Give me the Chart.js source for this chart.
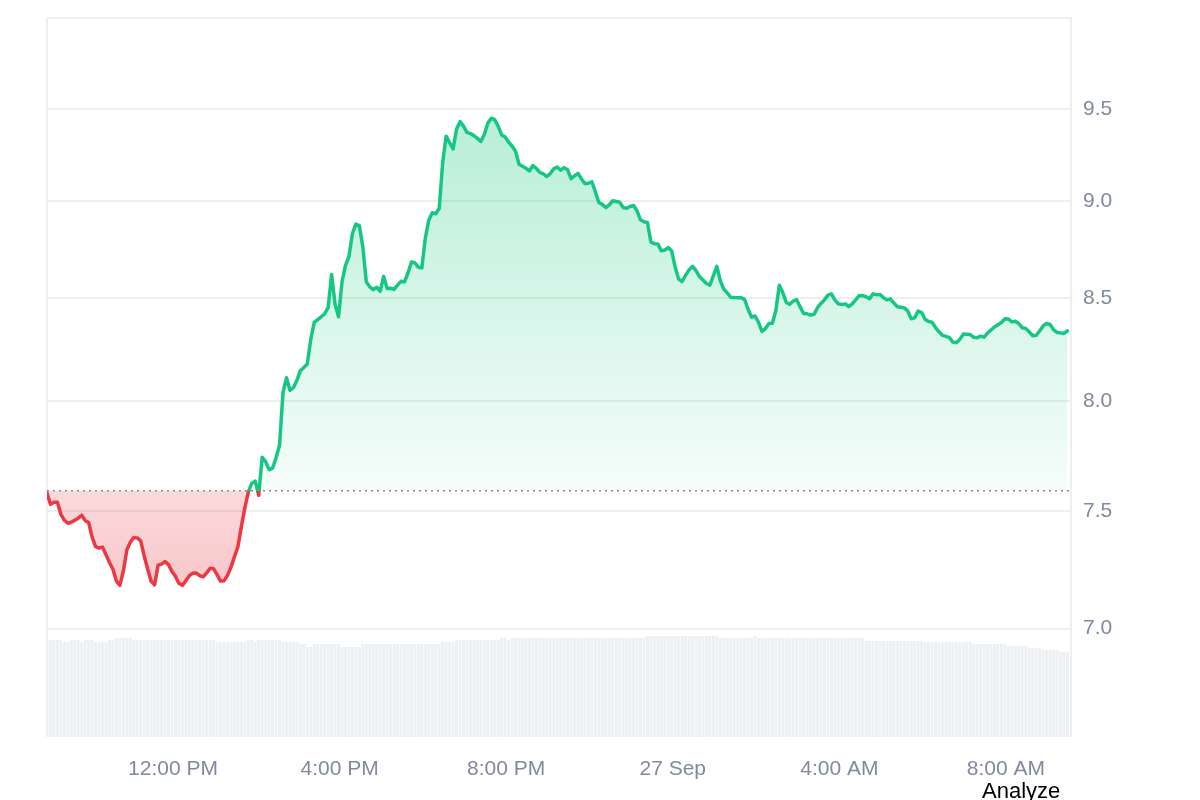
<!DOCTYPE html>
<html>
<head>
<meta charset="utf-8">
<script src="https://cdn.jsdelivr.net/npm/chart.js@4.4.1/dist/chart.umd.min.js"></script>
<style>
  html, body { margin: 0; padding: 0; background: #fff; overflow: hidden; }
  #wrap { position: relative; width: 1200px; height: 800px; }
  #analyze { position: absolute; left: 982px; top: 778px; font: 22px "Liberation Sans", Arial, sans-serif; color: #000; }
</style>
</head>
<body>
<div id="wrap">
  <canvas id="chart" width="1200" height="800"></canvas>
  <div id="analyze">Analyze</div>
</div>
<script>
// minutes from 26 Sep 00:00, one sample every 5 minutes
const startMinute = 538.5;
const endMinute = 2013.7;
const stepMinutes = 5;
const baselinePrice = 7.59;

const prices = [
  7.580, 7.530, 7.539, 7.539, 7.486, 7.460, 7.447, 7.451, 7.460, 7.469,
  7.482, 7.458, 7.450, 7.386, 7.345, 7.339, 7.343, 7.310, 7.277, 7.248,
  7.198, 7.180, 7.240, 7.331, 7.364, 7.385, 7.383, 7.370, 7.306, 7.249,
  7.197, 7.182, 7.266, 7.270, 7.281, 7.268, 7.239, 7.218, 7.189, 7.180,
  7.199, 7.221, 7.231, 7.232, 7.221, 7.216, 7.233, 7.252, 7.250, 7.225,
  7.198, 7.199, 7.222, 7.256, 7.301, 7.344, 7.432, 7.514, 7.584, 7.624,
  7.633, 7.570, 7.741, 7.721, 7.685, 7.692, 7.739, 7.796, 8.042, 8.111,
  8.052, 8.064, 8.099, 8.145, 8.160, 8.177, 8.297, 8.379, 8.393, 8.407,
  8.422, 8.452, 8.619, 8.469, 8.407, 8.581, 8.665, 8.710, 8.828, 8.877,
  8.870, 8.758, 8.582, 8.556, 8.542, 8.554, 8.534, 8.609, 8.548, 8.549,
  8.543, 8.565, 8.584, 8.581, 8.626, 8.682, 8.678, 8.655, 8.652, 8.804,
  8.898, 8.937, 8.931, 8.959, 9.203, 9.348, 9.312, 9.278, 9.387, 9.428,
  9.403, 9.369, 9.362, 9.351, 9.336, 9.319, 9.357, 9.419, 9.447, 9.439,
  9.402, 9.355, 9.344, 9.316, 9.294, 9.266, 9.195, 9.184, 9.173, 9.159,
  9.188, 9.172, 9.151, 9.143, 9.129, 9.145, 9.170, 9.180, 9.163, 9.177,
  9.165, 9.118, 9.132, 9.146, 9.116, 9.091, 9.093, 9.101, 9.047, 8.991,
  8.981, 8.964, 8.979, 9.000, 8.996, 8.992, 8.964, 8.960, 8.970, 8.975,
  8.947, 8.900, 8.890, 8.886, 8.784, 8.776, 8.774, 8.739, 8.743, 8.756,
  8.738, 8.655, 8.595, 8.583, 8.615, 8.642, 8.660, 8.638, 8.608, 8.591,
  8.573, 8.565, 8.613, 8.660, 8.587, 8.545, 8.526, 8.504, 8.503, 8.502,
  8.501, 8.493, 8.444, 8.405, 8.411, 8.380, 8.335, 8.349, 8.374, 8.375,
  8.438, 8.564, 8.528, 8.478, 8.469, 8.485, 8.492, 8.456, 8.423, 8.422,
  8.415, 8.419, 8.452, 8.473, 8.491, 8.515, 8.521, 8.491, 8.471, 8.468,
  8.471, 8.458, 8.471, 8.491, 8.512, 8.513, 8.506, 8.496, 8.521, 8.517,
  8.518, 8.502, 8.491, 8.496, 8.475, 8.457, 8.454, 8.451, 8.436, 8.397,
  8.402, 8.435, 8.428, 8.395, 8.384, 8.380, 8.354, 8.333, 8.316, 8.311,
  8.305, 8.283, 8.280, 8.296, 8.322, 8.321, 8.320, 8.306, 8.304, 8.312,
  8.307, 8.327, 8.342, 8.357, 8.368, 8.379, 8.397, 8.396, 8.382, 8.385,
  8.373, 8.353, 8.349, 8.333, 8.314, 8.316, 8.337, 8.362, 8.374, 8.369,
  8.344, 8.330, 8.328, 8.325, 8.338
];

const volumes = [
  24.75, 24.25, 24.25, 24.25, 24.25, 23.75, 23.75, 24.25, 24.25, 24.25, 23.75, 24.25, 24.25,
  24.25, 23.75, 23.75, 23.75, 23.75, 24.25, 24.25, 24.75, 24.75, 24.75, 24.75, 24.75,
  24.25, 24.25, 24.25, 24.25, 24.25, 24.25, 24.25, 24.25, 24.25, 24.25,
  24.25, 24.25, 24.25, 24.25, 24.25, 24.25, 24.25, 24.25, 24.25, 24.25,
  24.25, 24.25, 24.25, 24.25,
  23.75, 23.75, 23.75, 23.75, 23.75, 23.75, 23.75, 23.75, 23.75,
  24.25, 24.25, 23.75, 24.25, 24.25, 24.25, 24.25, 24.25, 24.25, 24.25,
  23.75, 23.75, 23.75, 23.75, 23.75, 23.25, 23.25, 22.5, 22.5,
  23.25, 23.25, 23.25, 23.25, 23.25, 23.25, 23.25, 23.25,
  22.5, 22.5, 22.5, 22.5, 22.5, 22.5,
  23.25, 23.25, 23.25, 23.25, 23.25, 23.25, 23.25, 23.25, 23.25, 23.25,
  23.25, 23.25, 23.25, 23.25, 23.25, 23.25, 23.25, 23.25, 23.25, 23.25,
  23.25, 23.25, 23.25,
  23.75, 23.75, 23.75, 23.75,
  24.25, 24.25, 24.25, 24.25, 24.25, 24.25, 24.25, 24.25, 24.25, 24.25,
  24.25, 24.25, 24.25,
  24.75, 24.75, 24.25,
  24.75, 24.75, 24.75, 24.75, 24.75, 24.75, 24.75, 24.75, 24.75, 24.75,
  24.75, 24.75, 24.75, 24.75, 24.75, 24.75, 24.75, 24.75, 24.75, 24.75,
  24.75, 24.75, 24.75, 24.75, 24.75, 24.75, 24.75, 24.75, 24.75, 24.75,
  24.75, 24.75, 24.75, 24.75, 24.75, 24.75, 24.75, 24.75, 24.75,
  25.25, 25.25, 25.25, 25.25, 25.25, 25.25, 25.25, 25.25, 25.25, 25.25,
  25.25, 25.25, 25.25, 25.25, 25.25, 25.25, 25.25, 25.25, 25.25, 25.25,
  25.25,
  24.75, 24.75, 24.75, 24.75, 24.75, 24.75, 24.75, 24.75, 24.75, 24.75,
  25.25,
  24.75, 24.75, 24.75, 24.75, 24.75, 24.75, 24.75, 24.75, 24.75, 24.75,
  24.75, 24.75, 24.75, 24.75, 24.75, 24.75, 24.75, 24.75, 24.75, 24.75,
  24.75, 24.75, 24.75, 24.75, 24.75, 24.75, 24.75, 24.75, 24.75, 24.75,
  24.75,
  24.0, 24.0, 24.0, 24.0, 24.0, 24.0, 24.0, 24.0, 24.0, 24.0,
  24.0, 24.0, 24.0, 24.0, 24.0, 24.0, 24.0,
  23.75, 23.75, 23.75, 23.75, 23.75, 23.75, 23.75, 23.75, 23.75, 23.75,
  23.75, 23.75, 23.75, 23.75,
  23.25, 23.25, 23.25, 23.25, 23.25, 23.25, 23.25, 23.25, 23.25, 23.25,
  22.75, 22.75, 22.75, 22.75, 22.75, 22.75,
  22.25, 22.25, 22.25, 22.25,
  21.75, 21.75, 21.75, 21.75, 21.75,
  21.25, 21.25, 21.25
];

const tickMinutes = [720, 960, 1200, 1440, 1680, 1920];
const tickLabels = ['12:00 PM', '4:00 PM', '8:00 PM', '27 Sep', '4:00 AM', '8:00 AM'];
const priceTicks = [7.0, 7.5, 8.0, 8.5, 9.0, 9.5];

const GREEN = '#16c784';
const RED = '#ea3943';
const TICK_COLOR = '#808a9d';
const GRID_COLOR = '#eeeeee';
const FONT = '"Liberation Sans", Arial, sans-serif';

function baselineStop(chart) {
    const area = chart.chartArea;
    const y = chart.scales.y;
    return (y.getPixelForValue(baselinePrice) - area.top) / (area.bottom - area.top);
}

// line turns red below the opening price
function lineColor(context) {
    const chart = context.chart;
    if (!chart.chartArea) return GREEN;
    const area = chart.chartArea;
    const cut = baselineStop(chart);
    const g = chart.ctx.createLinearGradient(0, area.top, 0, area.bottom);
    g.addColorStop(0, GREEN);
    g.addColorStop(cut, GREEN);
    g.addColorStop(cut, RED);
    g.addColorStop(1, RED);
    return g;
}

function fillColor(context) {
    const chart = context.chart;
    if (!chart.chartArea) return 'transparent';
    const area = chart.chartArea;
    const h = area.bottom - area.top;
    const cut = baselineStop(chart);
    const low = (chart.scales.y.getPixelForValue(7.15) - area.top) / h;
    const g = chart.ctx.createLinearGradient(0, area.top, 0, area.bottom);
    g.addColorStop(0, 'rgba(22, 199, 132, 0.38)');
    g.addColorStop(cut, 'rgba(22, 199, 132, 0.04)');
    g.addColorStop(cut, 'rgba(234, 57, 67, 0.19)');
    g.addColorStop(low, 'rgba(234, 57, 67, 0.29)');
    g.addColorStop(1, 'rgba(234, 57, 67, 0.30)');
    return g;
}

const frame = {
    id: 'frame',
    beforeDraw(chart) {
        const { ctx, chartArea: a } = chart;
        ctx.save();
        ctx.strokeStyle = GRID_COLOR;
        ctx.lineWidth = 2;
        ctx.beginPath();
        ctx.moveTo(a.left, a.bottom);
        ctx.lineTo(a.left, a.top);
        ctx.lineTo(a.right, a.top);
        ctx.lineTo(a.right, a.bottom);
        ctx.stroke();
        ctx.restore();
    }
};

new Chart(document.getElementById('chart'), {
    type: 'line',
    data: {
        datasets: [
            {
                label: 'Price',
                data: prices.map((p, i) => ({ x: startMinute + i * stepMinutes, y: p })),
                borderColor: lineColor,
                backgroundColor: fillColor,
                borderWidth: 3.5,
                borderJoinStyle: 'round',
                borderCapStyle: 'round',
                pointRadius: 0,
                tension: 0,
                fill: { target: { value: baselinePrice } },
                yAxisID: 'y',
                order: 0
            },
            {
                label: 'Open',
                data: [{ x: startMinute, y: baselinePrice }, { x: endMinute, y: baselinePrice }],
                borderColor: '#8c8c8c',
                borderWidth: 1.5,
                borderDash: [2, 4],
                pointRadius: 0,
                fill: false,
                yAxisID: 'y',
                order: 1
            },
            {
                type: 'bar',
                label: 'Volume',
                data: volumes.map((v, i) => ({ x: startMinute + i * stepMinutes, y: v })),
                backgroundColor: '#edf0f3',
                barPercentage: 0.86,
                categoryPercentage: 1,
                yAxisID: 'y2',
                order: 2
            }
        ]
    },
    options: {
        responsive: false,
        animation: false,
        layout: { padding: { left: 47, top: 18, right: 0, bottom: 0 } },
        plugins: {
            legend: { display: false },
            tooltip: { enabled: false },
            filler: { drawTime: 'beforeDatasetsDraw' }
        },
        scales: {
            x: {
                type: 'linear',
                min: startMinute,
                max: endMinute,
                offset: false,
                grid: { display: false, drawTicks: false },
                border: { display: false },
                afterBuildTicks: axis => { axis.ticks = tickMinutes.map(v => ({ value: v })); },
                afterFit: axis => { axis.height = 63; },
                ticks: {
                    autoSkip: false,
                    maxRotation: 0,
                    padding: 20,
                    color: TICK_COLOR,
                    font: { family: FONT, size: 21 },
                    callback: v => tickLabels[tickMinutes.indexOf(v)]
                }
            },
            y: {
                type: 'logarithmic',
                position: 'right',
                min: 6.568,
                max: 10.02,
                grid: { color: GRID_COLOR, lineWidth: 2, drawTicks: false },
                border: { display: false },
                afterBuildTicks: axis => { axis.ticks = priceTicks.map(v => ({ value: v })); },
                afterFit: axis => {
                    axis.width = 129;
                    axis.paddingTop = 0;
                    axis.paddingBottom = 0;
                },
                ticks: {
                    padding: 12,
                    color: TICK_COLOR,
                    font: { family: FONT, size: 21 },
                    callback: v => Number(v).toFixed(1)
                }
            },
            y2: {
                type: 'linear',
                display: false,
                min: 0,
                max: 179.75
            }
        }
    },
    plugins: [frame]
});
</script>
</body>
</html>
